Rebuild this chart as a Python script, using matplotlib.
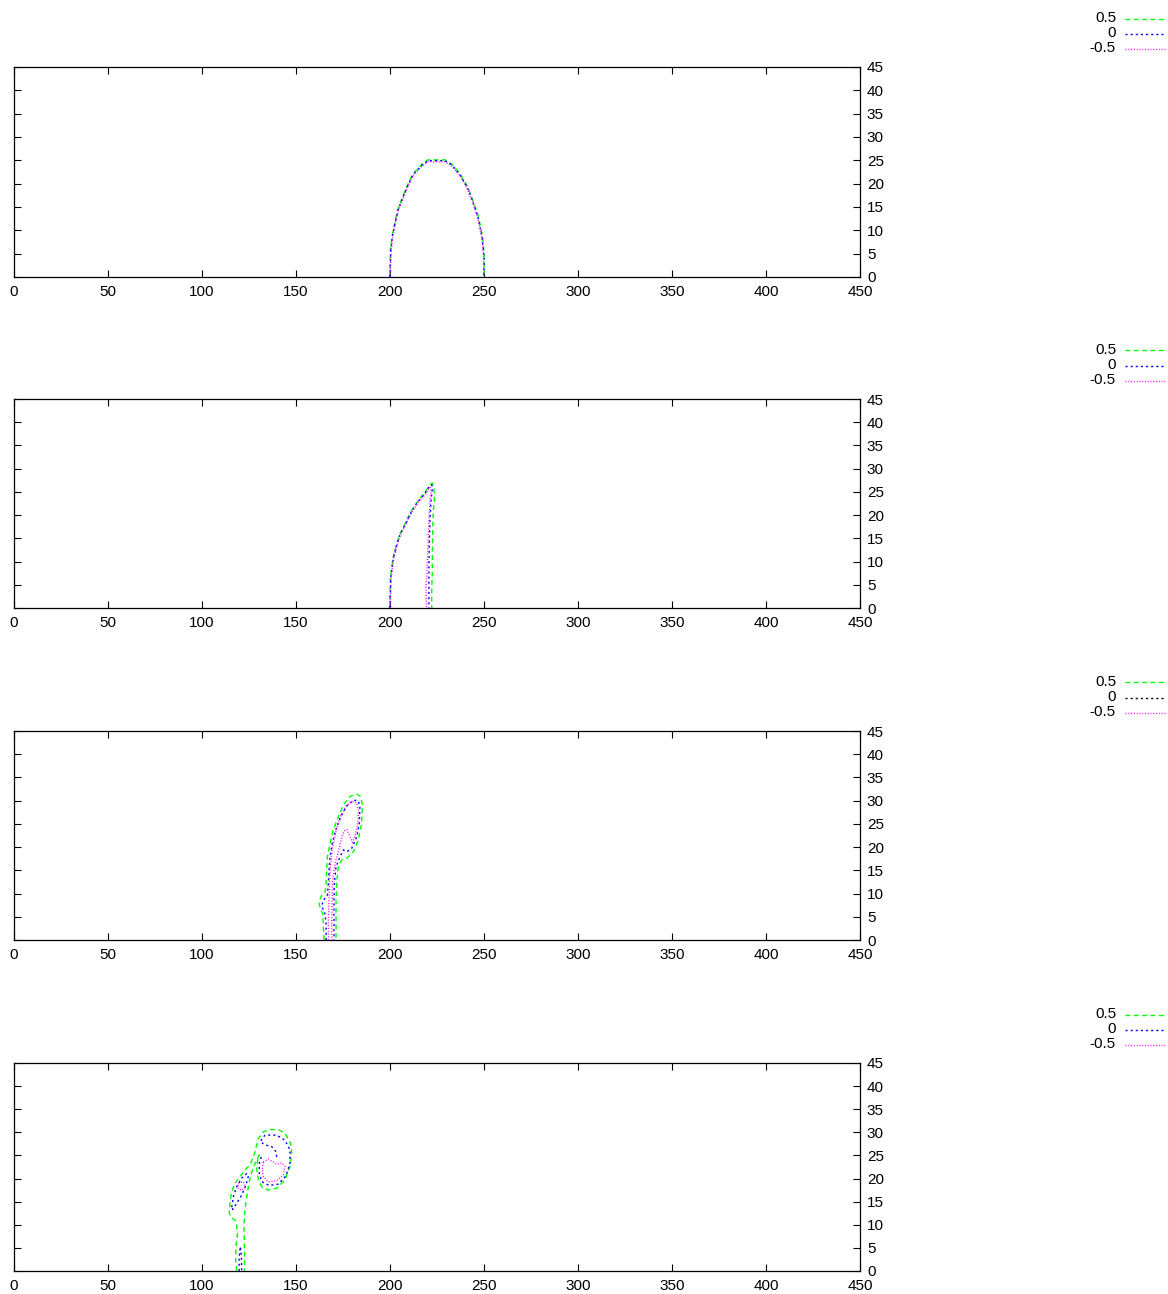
import matplotlib
matplotlib.use("Agg")
import matplotlib.pyplot as plt
from matplotlib.lines import Line2D

plt.rcParams['font.family'] = ['Liberation Sans', 'DejaVu Sans']

# ---------------- data ----------------
levels = ["0.5", "0", "-0.5"]
x_ticks = [0, 50, 100, 150, 200, 250, 300, 350, 400, 450]
y_ticks = [0, 5, 10, 15, 20, 25, 30, 35, 40, 45]

# panel 1
p1_green_x = [199.8, 200.2, 201.2, 202.5, 204.1, 206.7, 209.4, 212.0, 216.9, 220.1, 229.4, 233.2, 237.4, 241.2, 244.3, 247.0, 249.2, 250.2, 250.2]
p1_green_y = [0, 5.8, 9.0, 11.6, 14.4, 17.2, 19.8, 22.0, 24.1, 25.1, 25.1, 24.1, 22.0, 19.4, 16.2, 13.0, 8.7, 4.3, 0]
p1_blue_x = [200.0, 200.4, 201.4, 202.7, 204.3, 206.9, 209.6, 212.2, 217.0, 220.2, 229.3, 233.0, 237.2, 241.0, 244.1, 246.8, 249.0, 250.0, 250.0]
p1_blue_y = [0, 5.8, 9.0, 11.6, 14.4, 17.1, 19.7, 21.9, 24.0, 24.9, 24.9, 24.0, 21.9, 19.3, 16.1, 12.9, 8.6, 4.3, 0]
p1_mag_x = [200.2, 200.6, 201.6, 202.9, 204.5, 207.1, 209.8, 212.4, 217.2, 220.4, 229.1, 232.8, 237.0, 240.8, 243.9, 246.6, 248.8, 249.8, 249.8]
p1_mag_y = [0, 5.8, 9.0, 11.5, 14.3, 17.0, 19.6, 21.8, 23.8, 24.7, 24.7, 23.8, 21.8, 19.2, 16.0, 12.8, 8.5, 4.3, 0]

# panel 2
p2_green_x = [199.8, 200.2, 201.6, 203.4, 205.1, 207.8, 211.3, 214.9, 218.4, 221.2, 222.5, 223.4, 223.6, 223.0, 222.7, 222.5, 222.5, 222.2, 222.2]
p2_green_y = [0, 6.5, 10.8, 13.6, 15.8, 18.0, 20.9, 23.1, 24.8, 26.5, 26.9, 25.8, 23.4, 20.8, 16.5, 12.2, 7.9, 3.6, 0]
p2_blue_x = [200.0, 200.4, 201.8, 203.6, 205.3, 208.0, 211.5, 215.1, 218.6, 221.3, 222.3, 222.5, 221.8, 221.3, 220.9, 220.7, 220.7]
p2_blue_y = [0, 6.5, 10.8, 13.6, 15.8, 17.9, 20.8, 23.0, 24.7, 26.4, 26.5, 25.6, 23.0, 19.4, 13.6, 7.9, 0]
p2_mag_x = [200.2, 200.6, 202.0, 203.8, 205.5, 208.2, 211.7, 215.3, 218.8, 221.2, 221.9, 221.3, 220.7, 220.2, 219.7, 219.1, 219.5]
p2_mag_y = [0, 6.5, 10.7, 13.5, 15.7, 17.8, 20.7, 22.9, 24.5, 26.0, 25.6, 23.1, 18.6, 13.6, 7.9, 3.6, 0]

# panel 3
p3_green_x = [164.9, 164.5, 164.2, 162.8, 162.2, 163.7, 165.4, 166.0, 166.3, 166.7, 168.1, 169.8, 172.5, 175.2, 178.7, 182.3, 184.4, 185.3, 184.9, 183.1, 180.5, 177.0, 174.3, 172.5, 171.6, 171.3, 171.3, 171.3]
p3_green_y = [0, 3.6, 5.7, 6.8, 8.2, 9.7, 10.2, 12.2, 15.1, 17.9, 20.8, 23.7, 26.5, 29.1, 30.9, 31.4, 30.9, 29.1, 25.1, 21.5, 19.0, 17.6, 17.2, 15.8, 12.2, 8.6, 5.0, 0]
p3_blue_x = [166.0, 166.0, 165.4, 164.2, 164.0, 165.4, 166.7, 167.2, 167.6, 168.1, 169.3, 171.1, 173.8, 177.0, 180.5, 183.1, 184.0, 183.7, 182.3, 179.6, 177.0, 175.2, 173.4, 171.3, 170.4, 170.2, 170.2, 170.2]
p3_blue_y = [0, 3.6, 5.7, 6.8, 7.9, 9.0, 9.7, 12.2, 15.1, 17.9, 20.8, 23.7, 26.5, 28.9, 30.1, 30.0, 28.7, 25.1, 22.2, 19.7, 19.0, 19.4, 17.9, 15.8, 12.2, 8.6, 4.3, 0]
p3_mag_x = [167.3, 167.2, 167.5, 167.8, 168.3, 169.3, 171.0, 173.5, 176.5, 180.0, 182.3, 183.2, 183.0, 181.8, 180.0, 178.5, 177.0, 175.5, 174.0, 172.5, 170.8, 169.5, 169.2, 169.0, 169.0]
p3_mag_y = [0, 4, 8, 12, 16, 19.5, 23, 26.5, 28.8, 29.8, 29.5, 28, 25.5, 23, 21, 22.5, 23.8, 23.5, 21.5, 19, 16.5, 13, 8, 4, 0]

# panel 4
p4_green_x = [118.4, 117.9, 118.1, 118.8, 118.4, 117.6, 115.8, 114.5, 114.9, 115.8, 117.6, 120.2, 122.9, 125.5, 127.0, 128.2, 129.1, 130.0, 132.6, 136.2, 140.6, 144.1, 147.2, 147.7, 146.8, 144.1, 139.7, 135.3, 131.8, 130.0, 129.1, 129.6, 130.5, 128.5, 126.5, 125.0, 123.8, 122.8, 122.3, 122.5, 122.7, 122.5]
p4_green_y = [0, 2.7, 5.6, 7.8, 10.0, 11.0, 11.5, 12.5, 15.0, 17.2, 19.0, 20.4, 21.9, 22.9, 24.4, 25.8, 27.3, 28.7, 30.1, 30.6, 30.6, 29.8, 27.6, 25.5, 22.6, 19.7, 17.9, 17.5, 18.2, 19.7, 21.9, 24.0, 25.1, 23.5, 21.5, 19.0, 16.0, 13.0, 10.0, 6.0, 3.0, 0]
p4_blue_stem_x = [119.8, 119.7, 120.4, 121.0, 121.1]
p4_blue_stem_y = [0, 3.0, 5.3, 3.0, 0]
p4_blue_arm_x = [115.8, 116.7, 118.4, 121.1, 123.8, 124.6, 123.4, 121.1, 118.4, 116.3, 115.8]
p4_blue_arm_y = [13.8, 16.1, 18.2, 20.1, 21.1, 20.4, 18.6, 16.4, 14.6, 13.3, 13.8]
p4_blue_head_x = [139.7, 139.4, 137.1, 133.5, 130.9, 133.5, 139.7, 144.1, 146.8, 146.8, 144.7, 140.6, 135.8, 131.8, 130.5, 130.5, 131.8]
p4_blue_head_y = [24.7, 25.8, 26.9, 27.3, 28.0, 29.4, 29.4, 28.3, 26.2, 23.3, 20.6, 18.8, 18.5, 19.3, 21.1, 23.3, 25.1]
p4_mag_arm_x = [119.3, 122.0, 122.9, 121.1, 119.3, 119.3]
p4_mag_arm_y = [19.0, 19.3, 18.2, 17.4, 17.9, 19.0]
p4_mag_head_x = [132.6, 135.3, 137.9, 139.7, 142.4, 144.1, 143.2, 139.7, 135.3, 132.6, 132.1, 132.6]
p4_mag_head_y = [23.6, 24.2, 23.6, 23.1, 23.4, 22.6, 20.8, 19.5, 19.3, 20.4, 22.2, 23.6]

# ---------------- style ----------------
GREEN = '#00ff00'
BLUE = '#0000ff'
MAG = '#ff00ff'
LW = 1.0
ST_G = dict(color=GREEN, lw=LW, linestyle=(0, (3.5, 2.5)))
ST_B = dict(color=BLUE, lw=LW, linestyle=(0, (1.5, 2.2)))
ST_M = dict(color=MAG, lw=LW, linestyle=(0, (0.7, 1.3)))
FS = 11

W, H = 1168, 1294
fig = plt.figure(figsize=(W / 100, H / 100), dpi=100)

panels_px = [(67, 277), (399, 608), (731, 940), (1063, 1271)]
left_px, right_px = 14, 860

axes = []
for top, bot in panels_px:
    ax = fig.add_axes([left_px / W, 1 - bot / H, (right_px - left_px) / W, (bot - top) / H])
    ax.set_xlim(0, 450)
    ax.set_ylim(0, 45)
    ax.set_xticks(x_ticks)
    ax.set_yticks(y_ticks)
    ax.tick_params(axis='both', direction='in', length=5, width=0.8, labelsize=FS, colors='black')
    ax.tick_params(axis='x', top=True, bottom=True, pad=6)
    ax.tick_params(axis='y', left=True, right=True, labelleft=False, labelright=True, pad=5)
    for s in ax.spines.values():
        s.set_linewidth(0.9)
        s.set_color('black')
    axes.append(ax)

a1, a2, a3, a4 = axes
a1.plot(p1_green_x, p1_green_y, **ST_G)
a1.plot(p1_blue_x, p1_blue_y, **ST_B)
a1.plot(p1_mag_x, p1_mag_y, **ST_M)

a2.plot(p2_green_x, p2_green_y, **ST_G)
a2.plot(p2_blue_x, p2_blue_y, **ST_B)
a2.plot(p2_mag_x, p2_mag_y, **ST_M)

a3.plot(p3_green_x, p3_green_y, **ST_G)
a3.plot(p3_blue_x, p3_blue_y, **ST_B)
a3.plot(p3_mag_x, p3_mag_y, **ST_M)

a4.plot(p4_green_x, p4_green_y, **ST_G)
a4.plot(p4_blue_stem_x, p4_blue_stem_y, **ST_B)
a4.plot(p4_blue_arm_x, p4_blue_arm_y, **ST_B)
a4.plot(p4_blue_head_x, p4_blue_head_y, **ST_B)
a4.plot(p4_mag_arm_x, p4_mag_arm_y, **ST_M)
a4.plot(p4_mag_head_x, p4_mag_head_y, **ST_M)

# legends (text right-aligned, sample line to the right)
for i, (top, bot) in enumerate(panels_px):
    styles = [dict(ST_G), dict(ST_B), dict(ST_M)]
    if i == 2:
        styles[1]['color'] = 'black'
    for j, (lab, st) in enumerate(zip(levels, styles)):
        yp = top - 50 + 15 * j
        fig.text(1116 / W, 1 - (yp + 1) / H, lab, ha='right', va='center', fontsize=FS)
        ly = 1 - (yp + 1.5) / H
        fig.add_artist(Line2D([1125 / W, 1166 / W], [ly, ly], transform=fig.transFigure, **st))

fig.savefig('out.png', dpi=100)
